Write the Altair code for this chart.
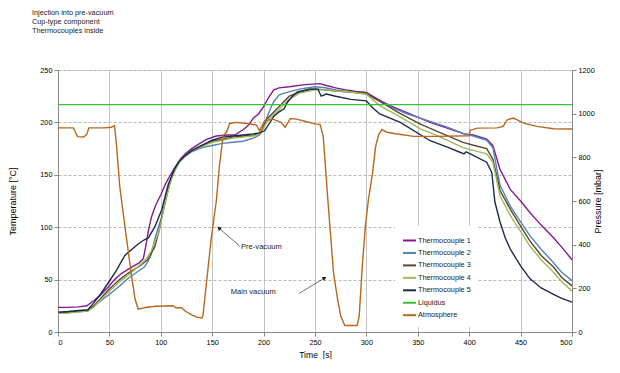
import altair as alt
import pandas as pd

FONT = "Liberation Sans"

series_names = ["Thermocouple 1", "Thermocouple 2", "Thermocouple 3", "Thermocouple 4",
                "Thermocouple 5", "Liquidus", "Atmosphere"]
series_colors = ["#851a8e", "#5383bd", "#5e4630", "#9bbb59", "#1c2b4c", "#33c433", "#b8681e"]

tc1_t = [0, 10, 20, 28, 35, 40, 49, 55, 62, 70, 79, 83, 86, 88, 91, 95, 100, 105, 110, 115, 120, 125, 130, 138, 145, 154, 165, 172, 180, 185, 190, 195, 200, 205, 210, 215, 225, 240, 255, 262, 270, 280, 290, 300, 306, 315, 323, 340, 362, 380, 395, 404, 417, 423, 430, 440, 450, 459, 470, 482, 490, 500]
tc1_T = [23.5, 23.5, 24, 25, 30, 34, 43, 50, 56, 61, 66, 70, 85, 97, 110, 121, 131, 142, 151, 159, 166, 171, 175, 180, 184, 187, 188, 188, 193, 197, 204, 208, 215, 224, 231, 233, 234, 236, 237, 235, 233, 231, 229.5, 228.5, 225, 220, 216, 209, 200, 194, 189, 188, 184, 178, 155, 136, 125, 114, 102, 90, 81, 69]

tc2_t = [0, 10, 20, 29, 35, 49, 60, 68, 78, 84, 88, 91, 94, 97, 101, 107, 110, 114, 118, 123, 130, 140, 150, 160, 170, 180, 190, 196, 200, 203, 207, 210, 215, 220, 236, 250, 260, 270, 285, 300, 306, 315, 323, 340, 362, 380, 395, 404, 417, 423, 430, 440, 450, 459, 470, 482, 490, 500]
tc2_T = [18.5, 19, 19.5, 20, 25, 35, 44, 51, 58, 62, 68, 75, 88, 98, 110, 135, 146, 155, 162, 167, 172, 176, 178, 180, 181, 182, 185, 188, 195, 204, 214, 220, 226, 228, 232, 234, 233, 231, 229, 227, 224, 219, 215, 208, 201, 195, 189, 187, 183, 176, 140, 120, 105, 92, 79, 66, 57, 49]

tc3_t = [0, 10, 20, 29, 35, 49, 60, 68, 81, 87, 94, 98, 101, 107, 113, 118, 123, 130, 140, 150, 160, 170, 180, 190, 197, 203, 210, 215, 225, 235, 250, 260, 270, 285, 300, 306, 315, 330, 352, 370, 394, 405, 417, 423, 430, 440, 450, 459, 470, 482, 490, 500]
tc3_T = [18, 19, 20, 21, 25, 40, 50, 56, 64, 69, 81, 95, 110, 137, 155, 163, 168, 173, 178, 182, 184, 186, 187, 188, 190, 203, 210, 215, 225, 229, 232, 231, 230, 229, 228, 224, 219, 210, 198.5, 191, 181, 178, 175, 165, 135, 117, 101, 87, 73, 62, 52, 44]

tc4_t = [0, 10, 20, 29, 35, 49, 60, 68, 81, 87, 91, 95, 98, 101, 104, 110, 116, 121, 128, 140, 150, 160, 170, 180, 190, 197, 203, 210, 215, 225, 235, 250, 260, 270, 285, 300, 306, 313, 330, 352, 370, 394, 405, 417, 423, 430, 440, 450, 459, 470, 482, 490, 500]
tc4_T = [17.5, 18, 19, 20, 24, 38, 48, 54, 65, 71, 78, 88, 95, 108, 123, 145, 159, 166, 172, 177, 181, 183, 185, 186, 187, 189, 200, 208, 212, 222, 228, 231, 231, 230, 229, 227, 222, 216, 207, 194, 187, 176, 173, 170, 162, 130, 111, 96, 82, 69, 57, 48, 39]

tc5_t = [0, 10, 20, 29, 35, 42, 49, 57, 65, 72, 78, 84, 88, 94, 97, 101, 107, 113, 118, 123, 130, 140, 150, 160, 170, 180, 190, 196, 201, 205, 210, 215, 220, 223, 228, 233, 245, 253, 256, 261, 270, 285, 300, 306, 313, 333, 362, 380, 391, 395, 397, 401, 417, 422, 425, 430, 435, 440, 450, 459, 470, 482, 490, 500]
tc5_T = [19, 19.5, 20.5, 21, 28, 37, 47, 59, 73, 79, 84, 88, 90, 100, 107, 117, 140, 155, 163, 168, 173, 178, 183, 186, 187, 188, 189, 190, 192, 198, 206, 210, 213, 219, 225, 229, 232, 231.5, 225, 227, 225, 222, 220.5, 214, 208, 200, 182.5, 176, 171.5, 170, 172, 170, 162, 152, 124, 105, 90, 79, 63, 51, 42, 36, 32, 28.5]

liq_t = [0, 500]
liq_T = [217, 217]

atm_t = [0, 15, 17, 19, 25, 28, 30, 45, 52, 55, 57, 60, 65, 71.5, 75, 78, 85, 95, 112, 115, 120, 124, 130, 135, 140, 141, 145, 149, 154, 157, 160.7, 164, 167, 174, 184, 193, 196, 201, 209, 217, 221, 226, 232, 242, 250, 255, 258, 262, 265, 268, 272, 275, 279, 291, 293, 296, 299, 302, 306, 309, 312, 315, 320, 327, 346, 369, 400, 401, 403, 408, 427, 433, 437, 443, 453, 466, 482, 500]
atm_P = [935, 935, 915, 895, 893, 905, 935, 935, 938, 945, 850, 670, 487, 258, 150, 105, 112, 118, 120, 110, 112, 95, 78, 68, 64, 75, 250, 426, 600, 760, 900, 916, 955, 960, 955, 948, 922, 967, 975, 960, 938, 978, 975, 963, 953, 950, 896, 637, 454, 271, 149, 73, 30, 30, 73, 302, 485, 607, 729, 851, 904, 927, 915, 909, 896, 896, 899, 925, 927, 934, 935, 942, 972, 980, 957, 942, 931, 930]

title_lines = ["Injection into pre-vacuum", "Cup-type component", "Thermocouples inside"]
x_ticks = list(range(0, 501, 50))
t_ticks = list(range(0, 251, 50))
p_ticks = list(range(0, 1201, 200))

ann_text = ["Pre-vacuum", "Main vacuum"]
ann_text_t = [178, 168]
ann_text_T = [81, 38]
arrow_t = [176.5, 234.7]
arrow_T = [82.3, 36.9]
arrow_t2 = [156.5, 259.4]
arrow_T2 = [99.2, 51.5]
arrow_angle = [310, 59]

rows = []
for name, ts, vs in [(series_names[0], tc1_t, tc1_T), (series_names[1], tc2_t, tc2_T),
                     (series_names[2], tc3_t, tc3_T), (series_names[3], tc4_t, tc4_T),
                     (series_names[4], tc5_t, tc5_T), (series_names[5], liq_t, liq_T)]:
    for t, v in zip(ts, vs):
        rows.append({"t": t, "T": v, "series": name})
temp_df = pd.DataFrame(rows)
atm_df = pd.DataFrame({"t": atm_t, "P": atm_P, "series": series_names[6]})
text_df = pd.DataFrame({"t": ann_text_t, "T": ann_text_T, "label": ann_text})
arrow_df = pd.DataFrame({"t": arrow_t, "T": arrow_T, "t2": arrow_t2, "T2": arrow_T2, "ang": arrow_angle})
header_df = pd.DataFrame({"k": [0]})

color_scale = alt.Scale(domain=series_names, range=series_colors)
legend = alt.Legend(title=None, orient="none", legendX=337, legendY=156, symbolType="stroke",
                    symbolSize=169, symbolStrokeWidth=2, labelFontSize=7.3, labelFont=FONT,
                    labelColor="#222222", rowPadding=0.45, labelOffset=1, padding=7,
                    fillColor="white", labelLimit=200)

x_enc = alt.X("t:Q", scale=alt.Scale(domain=[0, 500], nice=False),
              axis=alt.Axis(values=x_ticks, title="Time\u00a0 [s]", grid=True, gridColor="#c4c4c4",
                            labelFontSize=7.3, titleFontSize=8.6, titlePadding=5, tickSize=4,
                            labelPadding=2, titleFontWeight="normal"))

temp = alt.Chart(temp_df).mark_line(strokeWidth=1.4).encode(
    x=x_enc,
    y=alt.Y("T:Q", scale=alt.Scale(domain=[0, 250], nice=False),
            axis=alt.Axis(values=t_ticks, title="Temperature [°C]", grid=True, gridColor="#b8b8b8",
                          gridDash=[3, 2], labelFontSize=7.3, titleFontSize=9, titlePadding=22,
                          tickSize=4, labelPadding=2, titleFontWeight="normal")),
    color=alt.Color("series:N", scale=color_scale, legend=legend),
)

rules = alt.Chart(arrow_df).mark_rule(color="#333333", strokeWidth=0.7).encode(
    x="t:Q", y="T:Q", x2="t2:Q", y2="T2:Q")
heads = alt.Chart(arrow_df).mark_point(shape="triangle-up", filled=True, size=22, color="#222222",
                                       opacity=1).encode(x="t2:Q", y="T2:Q", angle=alt.Angle("ang:Q", scale=None))
texts = alt.Chart(text_df).mark_text(align="left", baseline="middle", fontSize=7.6, font=FONT,
                                     color="#222222").encode(x="t:Q", y="T:Q", text="label:N")

header = alt.Chart(header_df).mark_text(
    text=title_lines, align="left", baseline="top", fontSize=7.3, font=FONT,
    lineHeight=8.9, color="#222222"
).encode(x=alt.value(-26), y=alt.value(-61))

inner = alt.layer(temp, rules, heads, texts, header)

atm = alt.Chart(atm_df).mark_line(strokeWidth=1.4).encode(
    x=alt.X("t:Q"),
    y=alt.Y("P:Q", scale=alt.Scale(domain=[0, 1200], nice=False),
            axis=alt.Axis(orient="right", values=p_ticks, format="d", title="Pressure [mbar]",
                          grid=False, labelFontSize=7.3, titleFontSize=9, titleAngle=270,
                          titlePadding=8, tickSize=4, labelPadding=2, titleFontWeight="normal")),
    color=alt.Color("series:N", scale=color_scale, legend=legend),
)

chart = alt.layer(inner, atm).resolve_scale(y="independent").properties(
    width=514, height=262,
    autosize=alt.AutoSizeParams(type="none"),
    padding={"left": 50, "top": 62, "right": 40, "bottom": 27},
).configure_view(stroke="#c4c4c4").configure_axis(
    labelFont=FONT, titleFont=FONT, labelColor="#222222", titleColor="#222222",
    titleFontWeight="normal", domainColor="#7f7f7f", tickColor="#7f7f7f",
).configure(background="white")

chart.save("out.html", embed_options={"renderer": "svg", "actions": False})
